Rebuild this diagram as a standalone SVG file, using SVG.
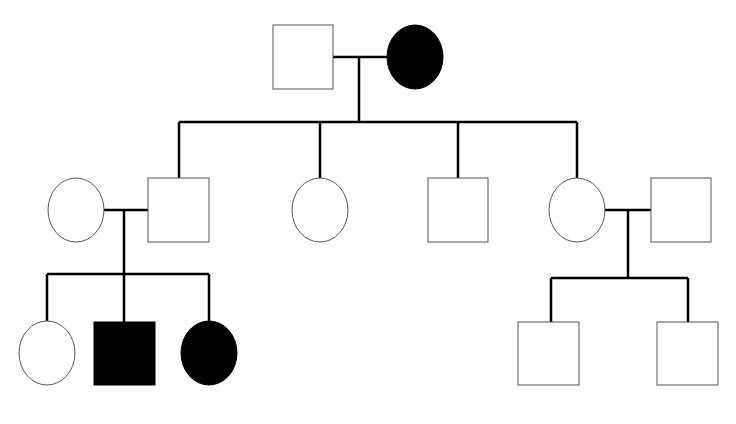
<svg xmlns="http://www.w3.org/2000/svg" width="736" height="424" viewBox="0 0 736 424">
<style>
.n{fill:#fff;stroke:#555;stroke-width:1}
.f{fill:#000;stroke:#000;stroke-width:1}
.c path{fill:none;stroke:#000;stroke-width:2.5}
</style>
<rect width="736" height="424" fill="#fff"/>
<g class="c" id="connectors">
<path d="M333 57H387M359 57V122M179 122H577M179 122V178M320 122V178M458 122V178M577 122V178"/>
<path d="M104 210H148M124 210V274M47 274H209M47 274V322M124 274V322M209 274V322"/>
<path d="M605 210H651M628 210V278M551 278H688M551 278V322M688 278V322"/>
</g>
<g id="I1"><rect class="n" x="273" y="25" width="60" height="64"/></g>
<g id="I2"><ellipse class="f" cx="415" cy="57" rx="28" ry="32"/></g>
<g id="II1"><ellipse class="n" cx="76" cy="210" rx="28" ry="32"/></g>
<g id="II2"><rect class="n" x="148" y="178" width="61" height="64"/></g>
<g id="II3"><ellipse class="n" cx="320" cy="210" rx="28" ry="32"/></g>
<g id="II4"><rect class="n" x="428" y="178" width="60" height="64"/></g>
<g id="II5"><ellipse class="n" cx="577" cy="210" rx="28" ry="32"/></g>
<g id="II6"><rect class="n" x="651" y="178" width="60" height="64"/></g>
<g id="III1"><ellipse class="n" cx="47" cy="353" rx="28" ry="32"/></g>
<g id="III2"><rect class="f" x="94" y="322" width="61" height="63"/></g>
<g id="III3"><ellipse class="f" cx="209" cy="353" rx="28" ry="32"/></g>
<g id="III4"><rect class="n" x="518" y="322" width="61" height="63"/></g>
<g id="III5"><rect class="n" x="657" y="322" width="61" height="63"/></g>
</svg>
